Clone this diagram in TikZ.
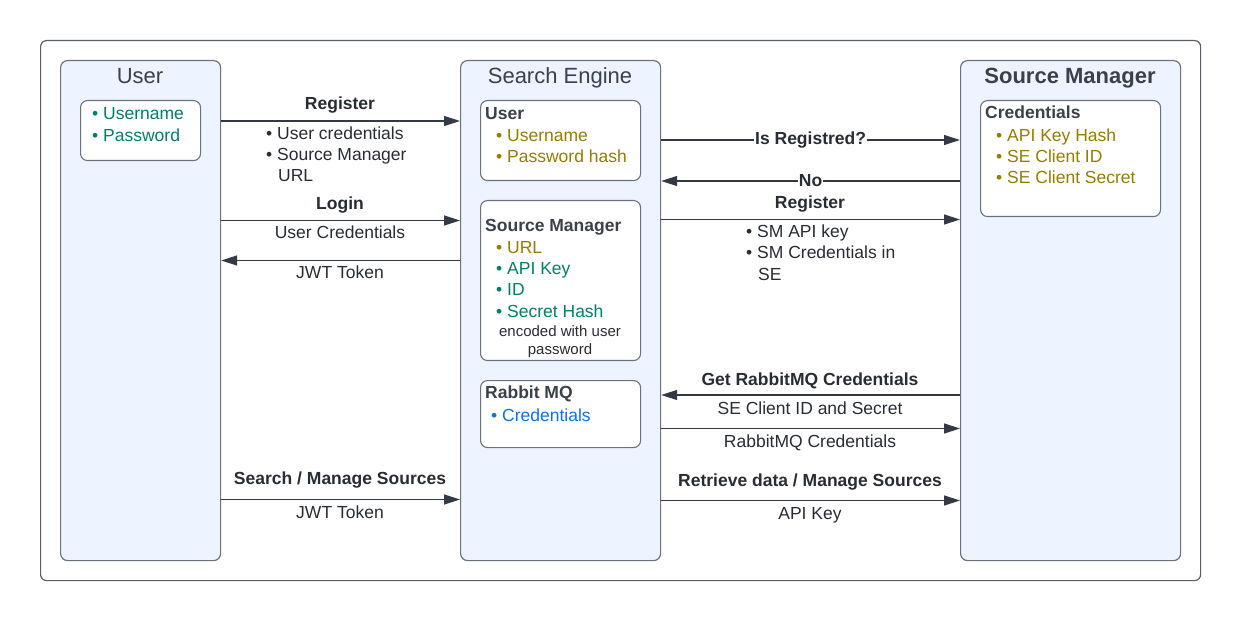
\documentclass[tikz,border=0pt]{standalone}
\usepackage{fontspec}
\setmainfont{Liberation Sans}
\usetikzlibrary{arrows.meta}
\definecolor{boxfill}{RGB}{237,244,255}
\definecolor{bordc}{RGB}{108,114,124}
\definecolor{framec}{RGB}{90,96,106}
\definecolor{titlec}{RGB}{58,65,74}
\definecolor{txtc}{RGB}{40,44,51}
\definecolor{olivec}{RGB}{152,124,0}
\definecolor{tealc}{RGB}{0,128,106}
\definecolor{bluec}{RGB}{16,113,229}
\definecolor{linec}{RGB}{51,58,69}
\tikzset{
  box/.style={draw=bordc, fill=boxfill, rounded corners=7pt, line width=1.2pt, anchor=north west, inner sep=0},
  inbox/.style={draw=bordc, fill=white, rounded corners=7pt, line width=1.1pt, anchor=north west, inner sep=0},
  txt/.style={inner sep=0, anchor=base west, text=txtc, font=\fontsize{17.5}{21}\selectfont},
  ctxt/.style={txt, anchor=base},
  btxt/.style={txt, font=\fontsize{17.5}{21}\selectfont\bfseries},
  cbtxt/.style={btxt, anchor=base},
  small/.style={inner sep=0, anchor=base, text=txtc, font=\fontsize{15}{18}\selectfont},
  title/.style={inner sep=0, anchor=base, text=titlec, font=\fontsize{22}{26}\selectfont},
  arr/.style={draw=linec, line width=1.3pt, -{Triangle[length=16pt,width=10pt]}},
  online/.style={fill=white, inner xsep=1pt, inner ysep=0pt, text=txtc, font=\fontsize{17.5}{21}\selectfont\bfseries}
}
\begin{document}
\begin{tikzpicture}[x=1pt,y=-1pt]
\useasboundingbox (0,0) rectangle (1240,620);
\node[draw=framec, line width=1.2pt, rounded corners=6pt, anchor=north west, inner sep=0, minimum width=1160, minimum height=540] (frame) at (40,40) {};

% main boxes
\node[box, minimum width=160, minimum height=500] (user) at (60,60) {};
\node[box, minimum width=200, minimum height=500] (se) at (460,60) {};
\node[box, minimum width=220, minimum height=500] (sm) at (960,60) {};

% User box
\node[title] (usert) at (140,84) {User};
\node[inbox, minimum width=120, minimum height=60] (ucred) at (80,100) {};
\node[txt, text=tealc] (u1) at (92,120) {• Username};
\node[txt, text=tealc] (u2) at (92,142) {• Password};

% Search Engine box
\node[title] (set) at (560,84) {Search Engine};
\node[inbox, minimum width=160, minimum height=80] (seuser) at (480,100) {};
\node[btxt, text=titlec] (seu0) at (485,120) {User};
\node[txt, text=olivec] (seu1) at (496,142) {• Username};
\node[txt, text=olivec] (seu2) at (496,163) {• Password hash};

\node[inbox, minimum width=160, minimum height=160] (sesm) at (480,200) {};
\node[btxt, text=titlec] (sesm0) at (485,232) {Source Manager};
\node[txt, text=olivec] (sesm1) at (496,253.5) {• URL};
\node[txt, text=tealc] (sesm2) at (496,274.5) {• API Key};
\node[txt, text=tealc] (sesm3) at (496,296) {• ID};
\node[txt, text=tealc] (sesm4) at (496,317.5) {• Secret Hash};
\node[small] (sesm5) at (560,337) {encoded with user};
\node[small] (sesm6) at (560,355) {password};

\node[inbox, minimum width=160, minimum height=67] (serm) at (480,380) {};
\node[btxt, text=titlec] (serm0) at (485,399) {Rabbit MQ};
\node[txt, text=bluec] (serm1) at (491,421) {• Credentials};

% Source Manager box
\node[title, font=\fontsize{22}{26}\selectfont\bfseries] (smt) at (1070,84) {Source Manager};
\node[inbox, minimum width=180, minimum height=116] (smcred) at (980,100) {};
\node[btxt, text=titlec] (smc0) at (985,119) {Credentials};
\node[txt, text=olivec] (smc1) at (996,141.5) {• API Key Hash};
\node[txt, text=olivec] (smc2) at (996,162.5) {• SE Client ID};
\node[txt, text=olivec] (smc3) at (996,183.5) {• SE Client Secret};

% User <-> Search Engine
\draw[arr] (user.east |- 0,121) -- (se.west |- 0,121);
\node[cbtxt] (l1) at (340,110) {Register};
\node[txt] (l1a) at (266,140) {• User credentials};
\node[txt] (l1b) at (266,161) {• Source Manager};
\node[txt] (l1c) at (278,182) {URL};

\draw[arr] (user.east |- 0,220.5) -- (se.west |- 0,220.5);
\node[cbtxt] (l2) at (340,210) {Login};
\node[ctxt] (l2a) at (340,239) {User Credentials};

\draw[arr] (se.west |- 0,260.5) -- (user.east |- 0,260.5);
\node[ctxt] (l3) at (340,279) {JWT Token};

\draw[arr] (user.east |- 0,499.5) -- (se.west |- 0,499.5);
\node[cbtxt] (l4) at (340,484) {Search / Manage Sources};
\node[ctxt] (l4a) at (340,518) {JWT Token};

% Search Engine <-> Source Manager
\draw[arr] (se.east |- 0,140) -- node[online] (l5) {Is Registred?} (sm.west |- 0,140);
\draw[arr] (sm.west |- 0,181) -- node[online] (l6) {No} (se.east |- 0,181);

\draw[arr] (se.east |- 0,219.5) -- (sm.west |- 0,219.5);
\node[cbtxt] (l7) at (810,209) {Register};
\node[txt] (l7a) at (746,238) {• SM API key};
\node[txt] (l7b) at (746,259) {• SM Credentials in};
\node[txt] (l7c) at (758,280.5) {SE};

\draw[arr] (sm.west |- 0,395) -- (se.east |- 0,395);
\node[cbtxt] (l8) at (810,385) {Get RabbitMQ Credentials};
\node[ctxt] (l8a) at (810,414) {SE Client ID and Secret};

\draw[arr] (se.east |- 0,428.5) -- (sm.west |- 0,428.5);
\node[ctxt] (l9) at (810,447) {RabbitMQ Credentials};

\draw[arr] (se.east |- 0,500.5) -- (sm.west |- 0,500.5);
\node[cbtxt] (l10) at (810,486) {Retrieve data / Manage Sources};
\node[ctxt] (l10a) at (810,519) {API Key};
\end{tikzpicture}
\end{document}
